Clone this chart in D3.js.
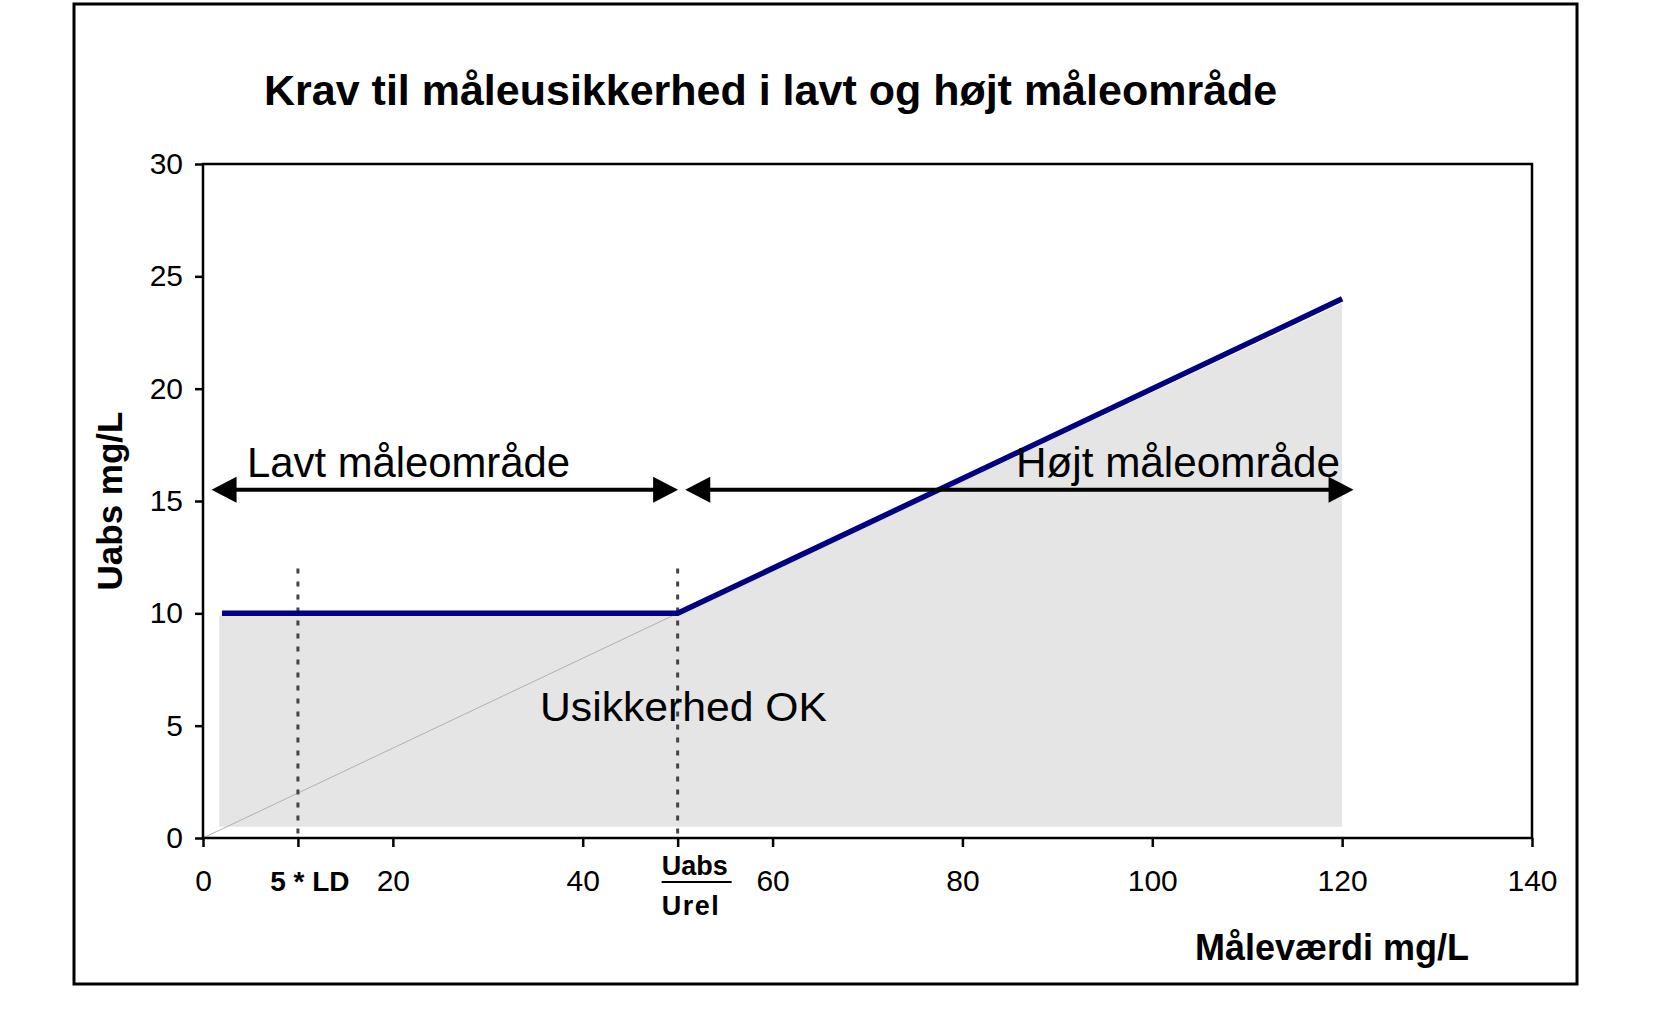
<!DOCTYPE html>
<html>
<head>
<meta charset="utf-8">
<script src="https://cdn.jsdelivr.net/npm/d3@7"></script>
<style>
  body { margin: 0; background: #fff; }
  svg text { font-family: "Liberation Sans", Arial, sans-serif; }
</style>
</head>
<body>
<div id="container"></div>
<script>
var title = "Krav til måleusikkerhed i lavt og højt måleområde",
    xTitle = "Måleværdi mg/L",
    yTitle = "Uabs mg/L";

var xTicks = [0, 10, 20, 40, 50, 60, 80, 100, 120, 140],
    yTicks = [0, 5, 10, 15, 20, 25, 30];

// required uncertainty (blue line)
var limitX = [2, 50, 120],
    limitY = [10, 10, 24];

// "Usikkerhed OK" area
var okX = [1.7, 1.7, 50, 120, 120],
    okY = [0.5, 9.9, 9.9, 23.8, 0.5];

// relative uncertainty line through origin
var relX = [0, 50],
    relY = [0, 10];

var ldX = 10, breakX = 50, markTop = 12;

var lowRange = [0.9, 50.05], highRange = [50.8, 121.2], rangeY = 15.5;

var margin = {top: 164, right: 122, bottom: 177, left: 203},
    W = 1654, H = 1015,
    width = W - margin.left - margin.right,
    height = H - margin.top - margin.bottom;

var x = d3.scaleLinear().domain([0, 140]).range([0, width]);
var y = d3.scaleLinear().domain([0, 30]).range([height, 0]);

var svg = d3.select("#container").append("svg")
    .attr("width", W)
    .attr("height", H);

// outer frame
svg.append("rect")
    .attr("x", 74).attr("y", 4)
    .attr("width", 1503).attr("height", 980)
    .attr("fill", "none")
    .attr("stroke", "#000")
    .attr("stroke-width", 3);

svg.append("text")
    .attr("x", 264).attr("y", 105)
    .attr("font-size", 43)
    .attr("font-weight", "bold")
    .text(title);

var g = svg.append("g")
    .attr("transform", "translate(" + margin.left + "," + margin.top + ")");

var okPts = d3.zip(okX, okY);
g.append("path")
    .attr("d", d3.line().x(d => x(d[0])).y(d => y(d[1]))(okPts) + "Z")
    .attr("fill", "#e5e5e5");

g.append("path")
    .attr("d", d3.line().x(d => x(d[0])).y(d => y(d[1]))(d3.zip(relX, relY)))
    .attr("stroke", "#b0b0b0")
    .attr("stroke-width", 1)
    .attr("fill", "none");

[ldX, breakX].forEach(function(v) {
    g.append("line")
        .attr("x1", x(v)).attr("x2", x(v))
        .attr("y1", y(markTop)).attr("y2", y(0))
        .attr("stroke", "#444")
        .attr("stroke-width", 3)
        .attr("stroke-dasharray", "5,8");
});

g.append("path")
    .attr("d", d3.line().x(d => x(d[0])).y(d => y(d[1]))(d3.zip(limitX, limitY)))
    .attr("stroke", "#000080")
    .attr("stroke-width", 5.5)
    .attr("fill", "none");

// arrows
function arrow(r) {
    var a = x(r[0]), b = x(r[1]), yy = y(rangeY), L = 25, h = 13;
    g.append("line")
        .attr("x1", a + L - 2).attr("x2", b - L + 2)
        .attr("y1", yy).attr("y2", yy)
        .attr("stroke", "#000").attr("stroke-width", 4);
    g.append("path")
        .attr("d", "M" + a + "," + yy + "L" + (a + L) + "," + (yy - h) + "L" + (a + L) + "," + (yy + h) + "Z")
        .attr("fill", "#000");
    g.append("path")
        .attr("d", "M" + b + "," + yy + "L" + (b - L) + "," + (yy - h) + "L" + (b - L) + "," + (yy + h) + "Z")
        .attr("fill", "#000");
}
arrow(lowRange);
arrow(highRange);

g.append("text")
    .attr("x", 44).attr("y", y(rangeY) - 13)
    .attr("font-family", "Lato, sans-serif")
    .attr("font-size", 43)
    .attr("textLength", 323)
    .attr("lengthAdjust", "spacingAndGlyphs")
    .text("Lavt måleområde");

g.append("text")
    .attr("x", 813).attr("y", y(rangeY) - 13)
    .attr("font-family", "Lato, sans-serif")
    .attr("font-size", 43)
    .attr("textLength", 324)
    .attr("lengthAdjust", "spacingAndGlyphs")
    .text("Højt måleområde");

g.append("text")
    .attr("x", 337).attr("y", y(5.2))
    .attr("font-size", 41)
    .attr("textLength", 287)
    .attr("lengthAdjust", "spacingAndGlyphs")
    .text("Usikkerhed OK");

// plot box
g.append("rect")
    .attr("width", width).attr("height", height)
    .attr("fill", "none")
    .attr("stroke", "#000")
    .attr("stroke-width", 2.5);

var xAxis = d3.axisBottom(x)
    .tickValues(xTicks)
    .tickSize(9)
    .tickSizeOuter(0)
    .tickPadding(23)
    .tickFormat(d => (d === ldX || d === breakX) ? "" : d);

var gx = g.append("g")
    .attr("transform", "translate(0," + height + ")")
    .call(xAxis);

var yAxis = d3.axisLeft(y)
    .tickValues(yTicks)
    .tickSize(8)
    .tickSizeOuter(0)
    .tickPadding(12);

var gy = g.append("g").call(yAxis);

[gx, gy].forEach(function(a) {
    a.select(".domain").remove();
    a.selectAll(".tick line").attr("stroke", "#000").attr("stroke-width", 2.5);
    a.selectAll(".tick text")
        .attr("font-size", 30)
        .attr("font-family", "Liberation Sans, Arial, sans-serif")
        .attr("fill", "#000");
});

g.append("text")
    .attr("x", x(ldX) + 12).attr("y", height + 53)
    .attr("text-anchor", "middle")
    .attr("font-size", 28)
    .attr("font-weight", "bold")
    .text("5 * LD");

g.append("text")
    .attr("x", x(breakX) - 16).attr("y", height + 37)
    .attr("font-size", 27)
    .attr("font-weight", "bold")
    .text("Uabs");
g.append("line")
    .attr("x1", x(breakX) - 16).attr("x2", x(breakX) + 54)
    .attr("y1", height + 44).attr("y2", height + 44)
    .attr("stroke", "#000").attr("stroke-width", 2);
g.append("text")
    .attr("x", x(breakX) - 16).attr("y", height + 77)
    .attr("font-size", 27)
    .attr("font-weight", "bold")
    .attr("letter-spacing", 1.5)
    .text("Urel");

svg.append("text")
    .attr("x", 1469).attr("y", 960)
    .attr("text-anchor", "end")
    .attr("font-size", 36)
    .attr("font-weight", "bold")
    .text(xTitle);

svg.append("text")
    .attr("transform", "translate(122,501) rotate(-90)")
    .attr("text-anchor", "middle")
    .attr("font-size", 35)
    .attr("font-weight", "bold")
    .text(yTitle);
</script>
</body>
</html>
